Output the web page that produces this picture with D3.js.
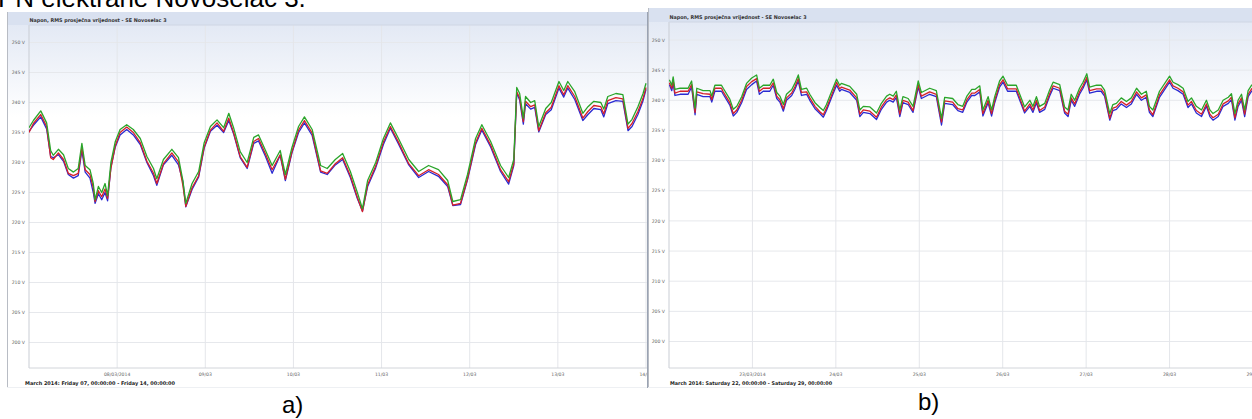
<!DOCTYPE html>
<html><head><meta charset="utf-8">
<script src="https://cdn.jsdelivr.net/npm/d3@7"></script>
<style>body{margin:0;background:#fff;overflow:hidden}svg{display:block}</style>
</head><body>
<svg id="c" width="1252" height="419"></svg>
<script>
// ---------- DATA ----------
const pageTitle = "PN elektrane Novoselac 3.";
const chartTitle = "Napon, RMS prosječna vrijednost - SE Novoselac 3";
const yTicks = [200,205,210,215,220,225,230,235,240,245,250];
const yTickUnit = " V";
const dayTicks = [0,24,48,72,96,120,144,168];
const aTickLabels = ["","08/03/2014","09/03","10/03","11/03","12/03","13/03","14/03"];
const bTickLabels = ["","23/03/2014","24/03","25/03","26/03","27/03","28/03","29/03"];
const aFooter = "March 2014: Friday 07, 00:00:00 - Friday 14, 00:00:00";
const bFooter = "March 2014: Saturday 22, 00:00:00 - Saturday 29, 00:00:00";
const captions = ["a)","b)"];

// panel a: hours since 07/03/2014 00:00
const aHours = [0,1.2,3.2,4.8,5.9,6.6,8,9.4,10.7,12.1,13.4,14.4,15.3,16.6,17.5,18,18.9,19.8,20.7,21.4,22.3,23.5,24.8,26.6,28.4,30.3,32.1,33.9,34.8,36.6,38.9,40.7,41.9,42.7,44.4,46.2,47.7,49.4,51.2,53,54.4,55.7,57.5,59.4,61.2,62.5,64.4,66.2,68.4,69.8,71.6,73.4,75,77.1,79.4,81.2,83.4,85.4,87.5,89.4,90.8,92.2,94.4,96.5,98.4,100.6,103.4,106.1,108.8,111.5,114,115.4,117.5,119.4,121.6,123.3,125.7,128.4,130.6,132,132.8,133.6,134.6,135.2,136.6,137.7,138.8,140.7,142.2,144.3,145.6,146.7,148.6,150.8,152.2,153.8,155.7,156.5,157.6,159.8,161.7,163.1,164.2,165.8,167.2,168];
const aGreen = [235.8,237,238.6,236.6,232,231.2,232.2,231.3,229,228.4,
229,233.2,229.5,228.8,226.5,223.8,226,225,226.5,224.5,
230,233.5,235.5,236.3,235.5,234,231,229,227.3,230.5,
232.2,230.8,227,223.2,226.5,228.5,233.3,236,237.1,235.8,
238.2,235.8,231.8,230,234.2,234.6,232,229.5,232,228,
232.5,236,237.6,235.5,229.5,229,230.5,231.5,228.5,225,
222.3,227,230,234,236.6,234,230.5,228.5,229.5,228.8,
227,223.5,223.8,228,234,236.3,233.5,229.5,227.5,230.5,
242.5,241.5,237.4,241,240,240.3,236,239,240,243.5,
242,243.5,241.8,238.2,239.3,240.2,240,238.9,241,241.5,
241.3,236.4,237.2,239.3,241.5,243.2];
const aRed = [235.0,236.5,238.0,236.0,230.8,230.5,231.6,230.5,228.2,227.8,
228.2,232.5,228.8,228.0,225.8,223.5,225.3,224.3,225.6,224.0,
229.0,232.8,235.0,235.9,235.0,233.3,230.2,228.2,226.5,229.8,
231.6,230.1,226.2,222.7,225.8,227.8,232.6,235.4,236.6,235.2,
237.4,235.0,231.0,229.2,233.5,234.0,231.4,228.8,231.3,227.2,
231.8,235.4,237.0,234.9,228.6,228.2,229.8,230.8,227.8,224.2,
221.8,226.3,229.4,233.4,236.0,233.4,229.8,227.8,228.8,228.0,
226.3,222.9,223.2,227.3,233.3,235.7,232.9,228.8,226.8,229.8,
241.8,240.8,236.8,240.2,239.3,239.6,235.3,238.3,239.2,242.8,
241.3,242.8,241.0,237.4,238.5,239.5,239.3,238.1,240.3,240.8,
240.6,235.7,236.5,238.5,240.7,242.5];
const aBlue = [235.2,236.2,237.6,235.6,231.0,230.8,231.3,230.2,228.0,227.4,
227.8,232.0,228.4,227.4,225.0,223.2,224.8,223.8,225.0,223.6,
229.2,232.6,234.6,235.5,234.6,233.0,230.0,227.8,226.2,229.6,
231.2,229.6,226.8,222.6,225.5,227.6,232.4,235.2,236.2,235.0,
237.0,234.8,230.8,229.0,233.2,233.6,231.0,228.2,231.2,227.0,
231.6,235.0,236.6,234.5,228.4,228.0,229.6,230.5,227.5,224.0,
221.9,226.0,229.1,233.0,235.7,233.1,229.6,227.5,228.5,227.7,
226.0,222.8,223.0,227.1,233.0,235.4,232.6,228.5,226.4,229.5,
241.6,240.4,236.4,239.8,238.9,239.2,235.1,238.0,238.8,242.4,
240.9,242.4,240.5,237.0,238.0,239.0,238.8,237.6,239.8,240.3,
240.2,235.3,236.0,238.0,240.3,242.2];

// panel b: hours since 22/03/2014 00:00
const bHours = [0.1,0.8,1.2,1.7,3.2,5.5,6.5,7.5,8,9.8,
11.8,12.3,13.2,15.1,15.6,17.5,18.5,19.5,20.9,22.3,
23.8,25.2,26,27.1,29,30,31,31.9,32.9,33.8,
35.3,36.2,37.2,38.1,39.6,40.5,42,43.4,44.4,45.3,
46.8,48.2,49.1,49.6,52,54,54.9,55.9,57.8,59.7,
61.1,62.6,63.5,64.5,65.4,66.4,67.3,68.8,70.2,71.7,
72.6,75,76.9,78.4,79.3,81.6,83.1,84.5,85.7,87.1,
88,89.4,90.3,91.8,92.8,93.7,95.1,96.1,97.4,99.9,
100.9,102.3,103.8,104.7,105.7,106.6,108.1,109.5,110.5,112.4,
113.8,114.8,115.7,116.7,118.1,119.1,120.2,121,123,124.3,
125.3,126.8,127.7,128.7,130.1,131.6,133,134.5,135.9,137.3,
138.2,139.2,141.1,144,145,146.4,147.9,149.3,150.3,151.7,
153.2,154.6,155.6,156.5,158,159.4,160.9,161.8,162.8,163.7,
164.7,165.6,166.6,167.7];
const bGreen = [243.4,242.5,243.9,241.8,242,242,243.2,238.7,242,241.6,
241.6,240.7,242.5,242.5,242,240.2,238.5,239,240.6,242.8,
243.7,244.2,242,242.5,242.5,243.5,241.3,240.7,239.3,241,
241.8,242.8,244.2,241.8,242,241,239.6,238.8,238.3,239.3,
241.5,243.5,242.5,242.8,242.3,241,238.4,239,238.9,237.9,
239.5,240.7,241,240.7,241.5,238.4,240.6,240.3,239,243.2,
241.3,242,241.6,237,240.5,240.3,239.3,239,240.7,241.8,
241.8,242.4,238.4,240.6,238.4,240.6,243.2,244,242.5,242.5,
241,238.9,240,239,240.6,239,239.5,241.7,243,242.6,
238.9,238.4,241,240,242,243,244.4,242.2,242.5,242.5,
241.7,237.8,239.3,239.5,240.4,239.8,240.4,242,241,241.5,
239,238.4,241.5,244,243,242.6,242,239.8,240.4,239,
238.4,240,238.4,237.8,238.4,240,240.5,241.1,237.8,240,
241,238.4,241.6,242.6];
const bRed = [242.9,242.0,243.3,241.2,241.5,241.5,242.6,238.0,241.4,241.1,
241.0,240.1,242.0,242.0,241.4,239.6,237.8,238.4,240.0,242.3,
243.1,243.6,241.5,242.0,242.0,242.9,240.7,240.1,238.6,240.4,
241.2,242.2,243.6,241.3,241.4,240.4,239.0,238.1,237.6,238.7,
240.9,243.0,241.9,242.2,241.7,240.4,237.7,238.4,238.2,237.2,
238.9,240.1,240.4,240.1,240.9,237.7,240.0,239.7,238.3,242.6,
240.7,241.4,241.0,236.4,239.9,239.7,238.6,238.4,240.1,241.2,
241.2,241.8,237.8,240.0,237.8,240.0,242.6,243.4,241.9,241.9,
240.4,238.2,239.4,238.4,240.0,238.3,238.9,241.1,242.4,242.0,
238.2,237.7,240.4,239.4,241.4,242.4,243.8,241.6,241.9,241.9,
241.1,237.0,238.7,238.9,239.8,239.2,239.8,241.4,240.4,240.9,
238.4,237.6,240.9,243.4,242.4,242.0,241.4,239.2,239.8,238.3,
237.7,239.4,237.7,237.1,237.7,239.4,239.9,240.5,237.1,239.4,
240.4,237.7,241.0,242.0];
const bBlue = [242.6,241.6,242.9,240.8,241.0,241.0,242.2,237.6,241.0,240.6,
240.6,239.7,241.5,241.5,241.0,239.2,237.4,238.0,239.6,241.8,
242.6,243.2,241.0,241.5,241.5,242.5,240.3,239.7,238.2,240.0,
240.8,241.8,243.2,240.8,241.0,240.0,238.6,237.8,237.2,238.3,
240.5,242.5,241.5,241.8,241.3,240.0,237.3,238.0,237.8,236.8,
238.5,239.7,240.0,239.7,240.5,237.3,239.6,239.3,238.0,242.2,
240.3,241.0,240.6,235.9,239.5,239.3,238.3,238.0,239.7,240.8,
240.8,241.4,237.4,239.6,237.4,239.6,242.2,243.0,241.5,241.5,
240.0,237.9,239.0,238.0,239.6,238.0,238.5,240.7,242.0,241.6,
237.9,237.3,240.0,239.0,241.0,242.0,243.4,241.2,241.5,241.5,
240.7,236.7,238.3,238.5,239.4,238.8,239.4,241.0,240.0,240.5,
238.0,237.3,240.5,243.0,242.0,241.6,241.0,238.8,239.4,237.9,
237.3,239.0,237.3,236.7,237.3,239.0,239.5,240.1,236.7,239.0,
240.0,237.3,240.6,241.6];

const seriesColors = {blue:"#2a2ad2", red:"#d4202a", green:"#2aa52a"};

// ---------- DRAW ----------
const svg = d3.select("#c");
const defs = svg.append("defs");
const grad = defs.append("linearGradient").attr("id","bg").attr("x1",0).attr("y1",0).attr("x2",0).attr("y2",1);
grad.append("stop").attr("offset","0").attr("stop-color","#dfe6f3");
grad.append("stop").attr("offset","1").attr("stop-color","#ffffff");

// page title (cut off at top)
svg.append("text").attr("x",-2).attr("y",7)
  .attr("font-family","'Liberation Sans',Arial,sans-serif").attr("font-size",26)
  .attr("fill","#000").text(pageTitle);

function panel(cfg, hours, green, red, blue, tickLabels, footer, id){
  const g = svg.append("g");
  const clip = defs.append("clipPath").attr("id","clip"+id);
  clip.append("rect").attr("x",cfg.fx0).attr("y",cfg.fy0).attr("width",cfg.fx1-cfg.fx0).attr("height",cfg.fy1-cfg.fy0);
  const inner = g.append("g").attr("clip-path",`url(#clip${id})`);
  inner.append("rect").attr("x",cfg.fx0).attr("y",cfg.fy0).attr("width",cfg.fx1-cfg.fx0).attr("height",cfg.fy1-cfg.fy0).attr("fill","#fff");
  inner.append("rect").attr("x",cfg.fx0).attr("y",cfg.fy0).attr("width",cfg.fx1-cfg.fx0).attr("height",cfg.gradH).attr("fill","url(#bg)");
  inner.append("rect").attr("x",cfg.fx0).attr("y",cfg.fy0).attr("width",cfg.fx1-cfg.fx0).attr("height",cfg.pTop-cfg.fy0).attr("fill","#d9e1f0");

  const x = d3.scaleLinear().domain([0,168]).range([cfg.pLeft,cfg.pRight]);
  const y = d3.scaleLinear().domain([200,250]).range([cfg.y200,cfg.y250]);

  inner.selectAll(".hg").data(yTicks).enter().append("line")
    .attr("x1",cfg.pLeft).attr("x2",cfg.pRight+20).attr("y1",d=>y(d)).attr("y2",d=>y(d))
    .attr("stroke","#e6e8ec").attr("stroke-width",1);
  inner.selectAll(".vg").data(dayTicks.slice(1)).enter().append("line")
    .attr("x1",d=>x(d)).attr("x2",d=>x(d)).attr("y1",cfg.pTop).attr("y2",cfg.pBottom)
    .attr("stroke","#e4e6ea").attr("stroke-width",1);
  inner.append("line").attr("x1",cfg.pLeft).attr("x2",cfg.pLeft).attr("y1",cfg.pTop).attr("y2",cfg.pBottom).attr("stroke","#c9cdd4");
  inner.append("line").attr("x1",cfg.pLeft).attr("x2",cfg.pRight+20).attr("y1",cfg.pBottom).attr("y2",cfg.pBottom).attr("stroke","#d2d5da");
  inner.append("line").attr("x1",cfg.pLeft).attr("x2",cfg.pRight+20).attr("y1",cfg.pTop).attr("y2",cfg.pTop).attr("stroke","#cfd6e4");

  inner.selectAll(".yl").data(yTicks).enter().append("text")
    .attr("x",cfg.pLeft-4).attr("y",d=>y(d)+1.6).attr("text-anchor","end")
    .attr("font-family","'DejaVu Sans',Verdana,sans-serif").attr("font-size",4.6).attr("fill","#666")
    .text(d=>d+yTickUnit);
  inner.selectAll(".xl").data(dayTicks).enter().append("text")
    .attr("x",d=>x(d)).attr("y",cfg.pBottom+7.5).attr("text-anchor","middle")
    .attr("font-family","'DejaVu Sans',Verdana,sans-serif").attr("font-size",4.6).attr("fill","#666")
    .text((d,i)=>tickLabels[i]);

  inner.append("text").attr("x",cfg.pLeft+0.5).attr("y",cfg.titleY)
    .attr("font-family","'DejaVu Sans',Verdana,sans-serif").attr("font-weight","bold").attr("font-size",5)
    .attr("fill","#333").attr("textLength",137).attr("lengthAdjust","spacingAndGlyphs").text(chartTitle);
  inner.append("text").attr("x",cfg.footX).attr("y",cfg.footY)
    .attr("font-family","'DejaVu Sans',Verdana,sans-serif").attr("font-weight","bold").attr("font-size",5)
    .attr("fill","#222").attr("textLength",cfg.footW).attr("lengthAdjust","spacingAndGlyphs").text(footer);

  const line = d3.line().x(d=>x(d[0])).y(d=>y(d[1]));
  const plotClip = defs.append("clipPath").attr("id","pclip"+id);
  plotClip.append("rect").attr("x",cfg.pLeft).attr("y",cfg.pTop).attr("width",cfg.fx1-cfg.pLeft).attr("height",cfg.pBottom-cfg.pTop);
  const lg = inner.append("g").attr("clip-path",`url(#pclip${id})`);
  [["blue",blue],["red",red],["green",green]].forEach(([k,arr])=>{
    lg.append("path").datum(hours.map((h,i)=>[h,arr[i]]))
      .attr("d",line).attr("fill","none").attr("stroke",seriesColors[k])
      .attr("stroke-width",1.3).attr("stroke-linejoin","round");
  });

  g.append("line").attr("x1",cfg.fx0+0.5).attr("x2",cfg.fx0+0.5).attr("y1",cfg.fy0).attr("y2",cfg.fy1).attr("stroke","#b8bcc4");
  g.append("line").attr("x1",cfg.fx0).attr("x2",cfg.fx1).attr("y1",cfg.fy1-0.5).attr("y2",cfg.fy1-0.5).attr("stroke","#eef0f3");
  if (cfg.rightBorder) g.append("line").attr("x1",cfg.fx1-0.5).attr("x2",cfg.fx1-0.5).attr("y1",cfg.fy0).attr("y2",cfg.fy1).attr("stroke","#9aa3b3");

  svg.append("text").attr("x",cfg.capX).attr("y",cfg.capY)
    .attr("font-family","'Liberation Sans',Arial,sans-serif").attr("font-size",24).attr("fill","#000")
    .text(captions[id]);
}

panel({fx0:7,fx1:648,fy0:12,fy1:388,pLeft:29,pRight:646,pTop:25,pBottom:368,y200:342.5,y250:42.5,gradH:105,
       titleY:21.5,footX:25,footY:385,footW:150,capX:282,capY:413,rightBorder:true},
      aHours,aGreen,aRed,aBlue,aTickLabels,aFooter,0);
panel({fx0:648,fx1:1252,fy0:8,fy1:388,pLeft:669,pRight:1253,pTop:22,pBottom:368,y200:341.5,y250:40,gradH:108,
       titleY:18.5,footX:670,footY:385,footW:162,capX:918,capY:410,rightBorder:false},
      bHours,bGreen,bRed,bBlue,bTickLabels,bFooter,1);
</script>
</body></html>
